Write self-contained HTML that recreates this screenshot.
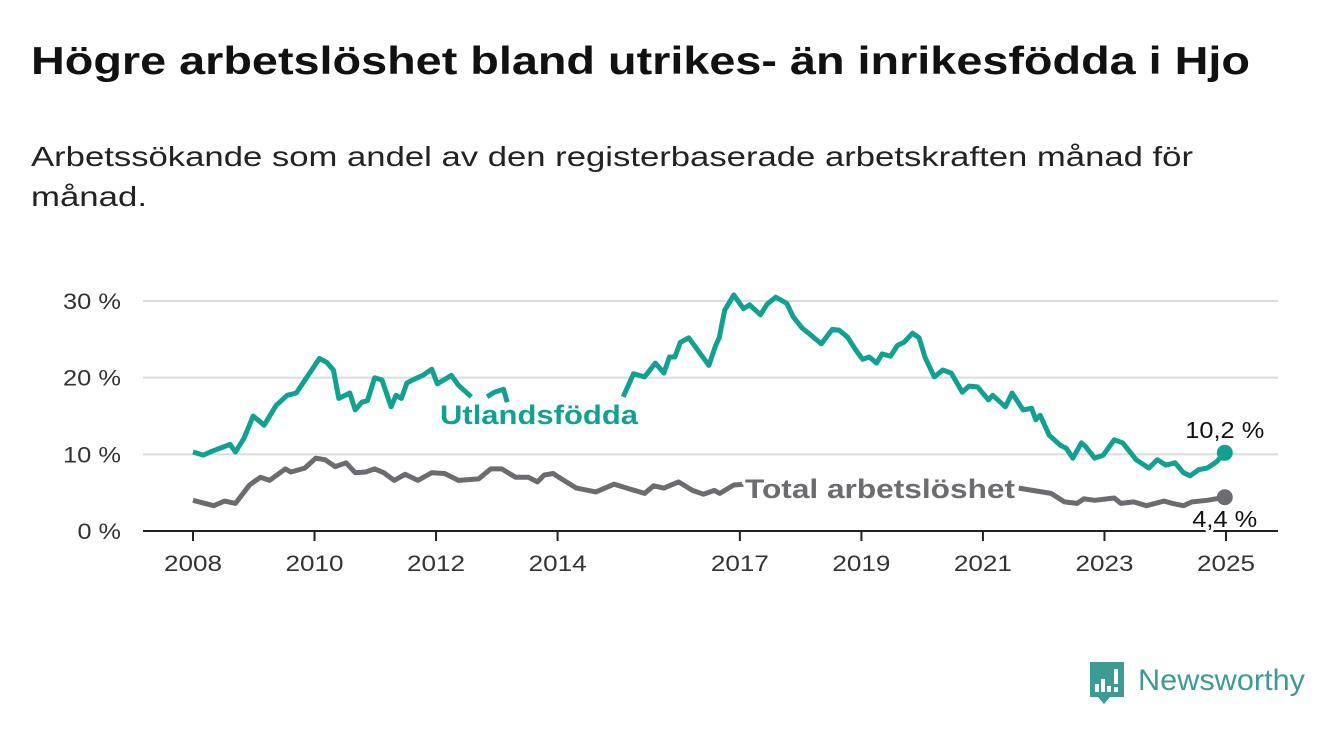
<!DOCTYPE html>
<html><head><meta charset="utf-8"><style>
body{margin:0;background:#fff;width:1340px;height:734px;overflow:hidden;font-family:"Liberation Sans",sans-serif;}
</style></head><body>
<svg width="1340" height="734" xmlns="http://www.w3.org/2000/svg" font-family="Liberation Sans, sans-serif">
<text x="31" y="74" font-size="39" font-weight="bold" fill="#111" textLength="1219" lengthAdjust="spacingAndGlyphs">Högre arbetslöshet bland utrikes- än inrikesfödda i Hjo</text>
<text x="31" y="166" font-size="28" fill="#222" textLength="1162" lengthAdjust="spacingAndGlyphs">Arbetssökande som andel av den registerbaserade arbetskraften månad för</text>
<text x="31" y="206" font-size="28" fill="#222" textLength="116" lengthAdjust="spacingAndGlyphs">månad.</text>
<g id="grid"></g>
<g id="axes"></g>
<g id="series"></g>
<g id="labels"></g>
<g>
<path d="M1090 662 h34 v35 h-14 l-6 7 l-6 -7 h-8 z" fill="#3d9a95"/>
<rect x="1095" y="684" width="4" height="8" fill="#fff"/><rect x="1101" y="679" width="4" height="13" fill="#fff"/><rect x="1107" y="686" width="4" height="6" fill="#fff"/><rect x="1114" y="669" width="4" height="15" fill="#fff"/><rect x="1114" y="687" width="4" height="5" fill="#fff"/>
<text x="1138" y="690" font-size="30" fill="#3d9a95" textLength="167" lengthAdjust="spacingAndGlyphs">Newsworthy</text>
</g>
</svg>
<script>
const dates = [2008.0,2008.17,2008.31,2008.61,2008.70,2008.84,2008.99,2009.17,2009.37,2009.55,2009.70,2010.08,2010.20,2010.31,2010.40,2010.58,2010.67,2010.78,2010.87,2010.99,2011.11,2011.26,2011.34,2011.43,2011.52,2011.64,2011.78,2011.93,2012.02,2012.25,2012.37,2012.58,2012.70,2012.84,2012.96,2013.11,2013.17,2013.31,2014.0,2015.08,2015.25,2015.43,2015.61,2015.75,2015.84,2015.93,2016.02,2016.16,2016.34,2016.49,2016.60,2016.66,2016.75,2016.90,2017.06,2017.16,2017.34,2017.45,2017.59,2017.77,2017.88,2018.02,2018.16,2018.34,2018.52,2018.63,2018.77,2018.91,2019.02,2019.13,2019.25,2019.34,2019.48,2019.59,2019.70,2019.84,2019.95,2020.05,2020.20,2020.34,2020.48,2020.66,2020.77,2020.91,2021.09,2021.16,2021.37,2021.48,2021.66,2021.80,2021.87,2021.94,2022.09,2022.27,2022.37,2022.48,2022.62,2022.69,2022.84,2022.98,2023.16,2023.30,2023.52,2023.73,2023.87,2024.01,2024.16,2024.30,2024.41,2024.55,2024.69,2024.84,2024.98];
const foreignBorn = [10.3,9.9,10.4,11.3,10.3,12.1,15,13.8,16.4,17.7,18,22.5,22,21,17.3,18,15.8,16.8,17,20,19.7,16.2,17.7,17.3,19.3,19.8,20.3,21.1,19.2,20.3,19,17.5,null,17.5,18.1,18.5,16.8,null,null,17.5,20.5,20.1,21.9,20.6,22.7,22.7,24.6,25.2,23.2,21.6,24.2,25.2,28.8,30.8,29,29.5,28.2,29.6,30.5,29.7,27.9,26.5,25.6,24.4,26.3,26.2,25.3,23.6,22.4,22.7,21.9,23.1,22.8,24.2,24.6,25.8,25.2,22.6,20.1,21,20.6,18.1,18.9,18.8,17.1,17.7,16.2,18,15.8,16,14.5,15.1,12.5,11.2,10.8,9.5,11.5,11,9.5,9.9,11.9,11.5,9.3,8.2,9.3,8.6,8.9,7.6,7.2,8,8.2,9,10.2];
const totalDates = [2008.0,2008.34,2008.52,2008.70,2008.93,2009.11,2009.26,2009.52,2009.61,2009.84,2010.02,2010.17,2010.34,2010.52,2010.67,2010.84,2010.99,2011.14,2011.31,2011.49,2011.70,2011.93,2012.14,2012.37,2012.70,2012.90,2013.08,2013.31,2013.52,2013.67,2013.78,2013.93,2014.02,2014.31,2014.63,2014.93,2015.14,2015.43,2015.58,2015.75,2015.99,2016.22,2016.40,2016.58,2016.67,2016.90,2017.06,2019.0,2021.59,2022.12,2022.34,2022.55,2022.66,2022.84,2023.16,2023.27,2023.48,2023.69,2023.98,2024.12,2024.30,2024.44,2024.69,2024.98];
const totalRate = [4.0,3.3,3.9,3.6,6.0,7.0,6.6,8.1,7.7,8.2,9.5,9.3,8.4,8.9,7.6,7.7,8.1,7.6,6.6,7.4,6.6,7.6,7.5,6.6,6.8,8.1,8.1,7.0,7.0,6.4,7.3,7.5,7.0,5.6,5.1,6.1,5.6,4.9,5.9,5.6,6.4,5.3,4.8,5.3,4.9,6.0,6.1,null,5.6,4.9,3.8,3.6,4.2,4.0,4.3,3.6,3.8,3.3,3.9,3.6,3.3,3.8,4.0,4.4];
const yTicks = [0,10,20,30];
const yTickLabels = ["0 %","10 %","20 %","30 %"];
const xTicks = [2008,2010,2012,2014,2017,2019,2021,2023,2025];

const NS="http://www.w3.org/2000/svg";
const X0=193,X1=1226,Y0=531,Y30=301;
const xs=v=>X0+(v-2008)*(X1-X0)/17;
const ys=v=>Y0-(v)*(Y0-Y30)/30;
function mk(tag,parent,attrs){const e=document.createElementNS(NS,tag);for(const k in attrs)e.setAttribute(k,attrs[k]);parent.appendChild(e);return e;}
const grid=document.getElementById('grid'),axes=document.getElementById('axes'),series=document.getElementById('series'),labels=document.getElementById('labels');
yTicks.forEach((t,i)=>{
  if(t>0){const l=mk('line',grid,{x1:143,x2:1278,y1:ys(t),y2:ys(t),stroke:'#dcdcdc','stroke-width':2});
  
  }
  const lbl=yTickLabels[i];
  const tx=mk('text',axes,{x:121,y:ys(t)+8,'font-size':22,fill:'#333','text-anchor':'end',textLength:lbl.length*14.5,lengthAdjust:'spacingAndGlyphs'});
  tx.textContent=lbl;
  
  
});
const ax=mk('line',axes,{x1:143,x2:1278,y1:Y0,y2:Y0,stroke:'#222','stroke-width':2});


xTicks.forEach(t=>{
  const tk=mk('line',axes,{x1:xs(t),x2:xs(t),y1:Y0,y2:Y0+10,stroke:'#222','stroke-width':2});
  
  
  const tx=mk('text',axes,{x:xs(t),y:Y0+40,'font-size':22,fill:'#333','text-anchor':'middle',textLength:58,lengthAdjust:'spacingAndGlyphs'});
  tx.textContent=t;
  
  
});
function pathFor(d,v){let s='',pen=false;for(let i=0;i<d.length;i++){if(v[i]==null){pen=false;continue;}s+=(pen?'L':'M')+xs(d[i]).toFixed(1)+' '+ys(v[i]).toFixed(1);pen=true;}return s;}
const pT=mk('path',series,{d:pathFor(totalDates,totalRate),fill:'none',stroke:'#6b6b70','stroke-width':5,'stroke-linejoin':'round'});


const pF=mk('path',series,{d:pathFor(dates,foreignBorn),fill:'none',stroke:'#12a091','stroke-width':5,'stroke-linejoin':'round'});


const lf=foreignBorn.length-1, lt=totalRate.length-1;
const dF=mk('circle',series,{cx:xs(dates[lf]),cy:ys(foreignBorn[lf]),r:8,fill:'#12a091'});


const dT=mk('circle',series,{cx:xs(totalDates[lt]),cy:ys(totalRate[lt]),r:8,fill:'#6b6b70'});


function lab(txt,x,y,size,fill,weight,anchor,len){const t=mk('text',labels,{x:x,y:y,'font-size':size,fill:fill,'font-weight':weight,'text-anchor':anchor,stroke:'#fff','stroke-width':6,'paint-order':'stroke','stroke-linejoin':'round',textLength:len,lengthAdjust:'spacingAndGlyphs'});t.textContent=txt;return t;}
const l1=lab('Utlandsfödda',440,424,27,'#12a091','bold','start',198);


const l2=lab('Total arbetslöshet',745,498,27,'#6b6b70','bold','start',270);


const l3=lab(String(foreignBorn[lf]).replace('.',',')+' %',xs(dates[lf]),438,23,'#111','normal','middle',79);


const l4=lab(String(totalRate[lt]).replace('.',',')+' %',xs(totalDates[lt]),527,23,'#111','normal','middle',65);


</script>
</body></html>
